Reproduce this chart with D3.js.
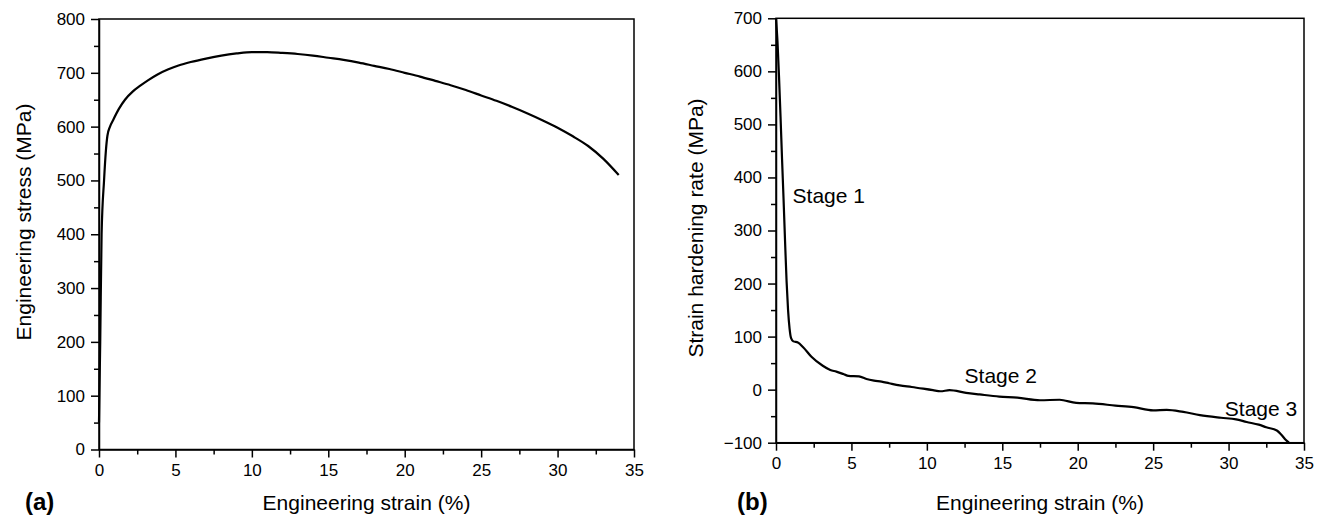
<!DOCTYPE html>
<html>
<head>
<meta charset="utf-8">
<script src="https://cdn.jsdelivr.net/npm/d3@7"></script>
<style>
  body { margin: 0; background: white; }
  text { font-family: "Liberation Sans", Arial, sans-serif; fill: black; }
</style>
</head>
<body>
<div id="main-section"></div>
<script>
// (a) engineering stress-strain curve: [strain %, stress MPa]
const stressStrain = [
  [0, 50], [0.08, 200], [0.17, 400], [0.33, 500], [0.45, 555], [0.55, 583],
  [0.72, 600], [0.92, 612], [1.3, 633], [1.7, 650], [2.2, 665], [2.7, 676],
  [3.2, 686], [3.8, 696.5], [4.5, 706], [5.2, 713.5], [6, 720], [7, 726.5],
  [8, 732], [9, 736], [10, 738.5], [11, 738.5], [12, 737], [13, 735],
  [14, 732], [15, 728], [16, 724], [17, 719], [18, 713], [19, 707],
  [20, 700], [21, 693], [22, 685], [23, 677], [24, 668], [25, 658],
  [26, 648], [27, 637], [28, 625], [29, 612], [30, 598], [31, 582],
  [32, 564], [33, 540], [34, 510]
];

// (b) strain hardening rate: [strain %, rate MPa]
const hardeningRate = [
  [0, 700], [0.1, 655], [0.2, 590], [0.3, 515], [0.4, 435], [0.5, 360],
  [0.6, 280], [0.7, 205], [0.8, 150], [0.9, 115], [1.0, 97], [1.15, 91],
  [1.45, 89], [1.8, 80], [2.35, 62], [3.1, 45], [3.6, 37], [4.0, 34],
  [4.5, 29], [4.8, 26], [5.5, 25], [6.0, 20], [6.5, 17], [7.0, 15],
  [7.5, 12], [8.2, 8], [9.0, 5], [10.4, -1], [10.9, -3], [11.5, -1],
  [12.6, -6], [13.5, -9], [14.8, -13], [16, -15], [17.5, -20], [18.8, -19],
  [19.9, -25], [21, -26], [22.5, -30], [23.7, -33], [25, -39], [25.9, -38],
  [27, -42], [28.1, -48], [29.5, -53], [30.5, -56], [31.2, -61], [32, -66],
  [32.5, -71], [33.2, -77], [33.5, -85], [33.8, -95], [34, -100]
];

const strainTicks = [0, 5, 10, 15, 20, 25, 30, 35];
const stressTicks = [0, 100, 200, 300, 400, 500, 600, 700, 800];
const rateTicks = [-100, 0, 100, 200, 300, 400, 500, 600, 700];

const stageLabels = [
  { text: "Stage 1", x: 1.1, y: 352 },
  { text: "Stage 2", x: 12.5, y: 12 },
  { text: "Stage 3", x: 29.75, y: -50 }
];

const W = 1322, H = 521;

const svg = d3.select("#main-section")
  .append("svg")
    .attr("width", W)
    .attr("height", H)
    .style("background-color", "white");


function fn_drawPanel(cfg) {
  const x = d3.scaleLinear().domain([0, 35]).range([cfg.left, cfg.right]);
  const y = d3.scaleLinear().domain(cfg.yDomain).range([cfg.bottom, cfg.top]);

  const g = svg.append("g");

  // frame (top and right edges)
  g.append("rect")
    .attr("x", cfg.left)
    .attr("y", cfg.top)
    .attr("width", cfg.right - cfg.left)
    .attr("height", cfg.bottom - cfg.top)
    .attr("fill", "none")
    .attr("stroke", "black")
    .attr("stroke-width", 1.5);

  // minor ticks
  const xMinor = d3.range(2.5, 35, 5);
  g.append("g")
    .attr("transform", "translate(0," + cfg.bottom + ")")
    .call(d3.axisBottom(x).tickValues(xMinor).tickSize(5).tickFormat(""))
    .call(function(a) { a.select(".domain").remove(); })
    .selectAll("line").attr("stroke-width", 1.5);

  const yMinor = d3.range(cfg.yDomain[0] + 50, cfg.yDomain[1], 100);
  g.append("g")
    .attr("transform", "translate(" + cfg.left + ",0)")
    .call(d3.axisLeft(y).tickValues(yMinor).tickSize(5).tickFormat(""))
    .call(function(a) { a.select(".domain").remove(); })
    .selectAll("line").attr("stroke-width", 1.5);

  // major ticks
  const xAxis = g.append("g")
    .attr("transform", "translate(0," + cfg.bottom + ")")
    .call(d3.axisBottom(x).tickValues(strainTicks).tickSize(8).tickSizeOuter(0).tickPadding(6));
  xAxis.select(".domain").attr("stroke-width", 1.5);
  xAxis.selectAll("line").attr("stroke-width", 1.5);
  xAxis.selectAll("text").attr("font-size", 17).style("font-family", "Liberation Sans, Arial, sans-serif");

  const yAxis = g.append("g")
    .attr("transform", "translate(" + cfg.left + ",0)")
    .call(d3.axisLeft(y).tickValues(cfg.yTicks).tickSize(8).tickSizeOuter(0).tickPadding(6));
  yAxis.select(".domain").attr("stroke-width", 1.5);
  yAxis.selectAll("line").attr("stroke-width", 1.5);
  yAxis.selectAll("text").attr("font-size", 17).style("font-family", "Liberation Sans, Arial, sans-serif");

  // curve
  g.append("path")
    .datum(cfg.data)
    .attr("fill", "none")
    .attr("stroke", "black")
    .attr("stroke-width", 2.2)
    .attr("stroke-linejoin", "round")
    .attr("d", d3.line()
      .x(function(d) { return x(d[0]); })
      .y(function(d) { return y(d[1]); })
      .curve(d3.curveMonotoneX));

  // axis titles
  g.append("text")
    .attr("x", (cfg.left + cfg.right) / 2)
    .attr("y", 510)
    .attr("text-anchor", "middle")
    .attr("font-size", 21)
    .text("Engineering strain (%)");

  g.append("text")
    .attr("transform", "translate(" + cfg.titleX + "," + cfg.titleY + ") rotate(-90)")
    .attr("text-anchor", "middle")
    .attr("font-size", 21)
    .text(cfg.yTitle);

  // panel letter
  g.append("text")
    .attr("x", cfg.letterX)
    .attr("y", 510)
    .attr("font-size", 24)
    .attr("font-weight", "bold")
    .text(cfg.letter);

  return { x: x, y: y, g: g };
}


fn_drawPanel({
  left: 99, right: 634, top: 19, bottom: 449.5,
  yDomain: [0, 800], yTicks: stressTicks, data: stressStrain,
  yTitle: "Engineering stress (MPa)", titleX: 31, titleY: 222,
  letter: "(a)", letterX: 25
});

const panelB = fn_drawPanel({
  left: 776, right: 1304, top: 18.3, bottom: 442.7,
  yDomain: [-100, 700], yTicks: rateTicks, data: hardeningRate,
  yTitle: "Strain hardening rate (MPa)", titleX: 703, titleY: 228,
  letter: "(b)", letterX: 737
});

panelB.g.selectAll(".stage")
  .data(stageLabels).enter()
  .append("text")
    .attr("class", "stage")
    .attr("x", function(d) { return panelB.x(d.x); })
    .attr("y", function(d) { return panelB.y(d.y); })
    .attr("font-size", 21)
    .text(function(d) { return d.text; });
</script>
</body>
</html>
